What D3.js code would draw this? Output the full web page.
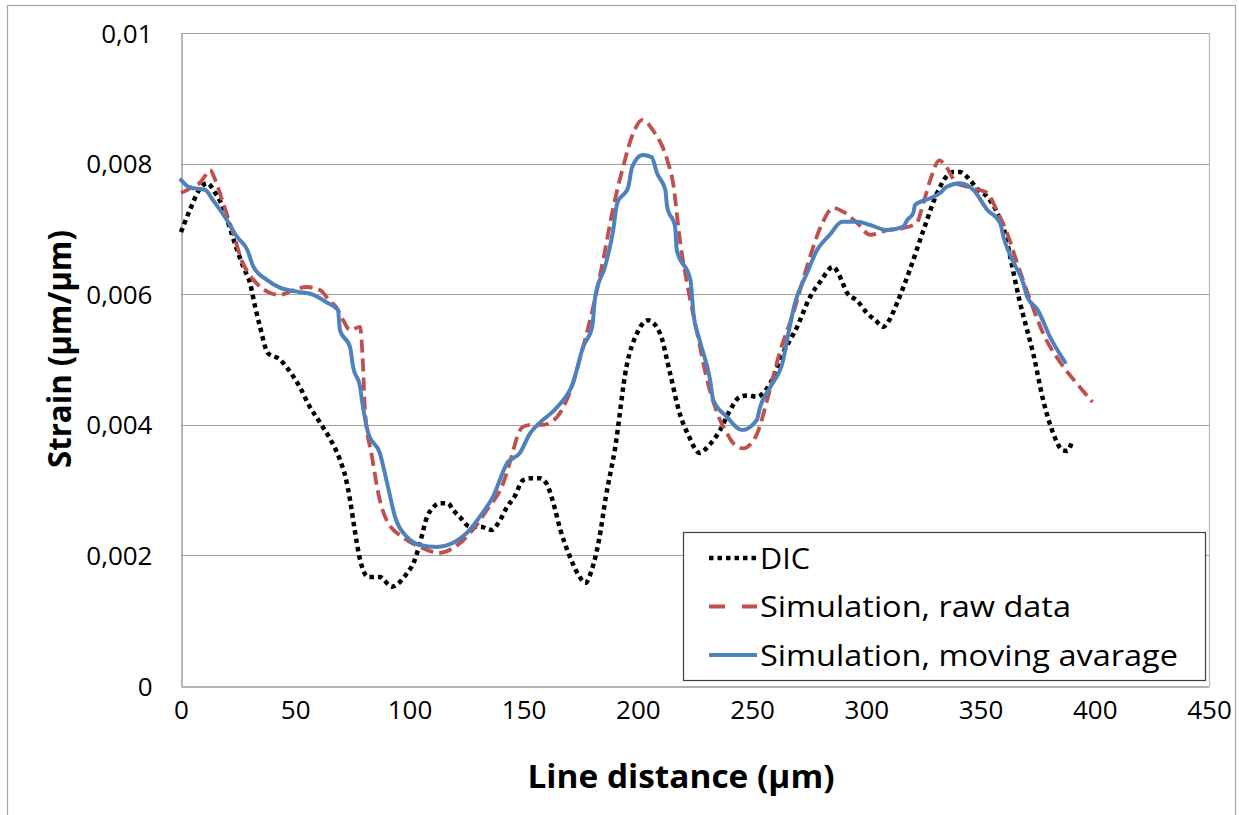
<!DOCTYPE html>
<html><head><meta charset="utf-8">
<script src="https://cdn.jsdelivr.net/npm/d3@7/dist/d3.min.js"></script>
<style>body{margin:0;background:#fff}svg{display:block}</style>
</head><body>
<svg id="c" width="1239" height="815"></svg>
<script>
// ---- data ----
const xTicks = [0,50,100,150,200,250,300,350,400,450];
const yTicks = [0,0.002,0.004,0.006,0.008,0.01];
const seriesNames = ["DIC","Simulation, raw data","Simulation, moving avarage"];

const dicX = [0,4,8,11.4,15,18.4,21.5,24.5,27.5,30.2,32.5,34.6,38,43.3,48,52,56,60.9,65,69.6,72,74,76,78.4,82,87,92.3,96,99,102,104.6,107.7,110,113.4,116.9,119,122,126.5,131,136,139,142.7,146,149.7,153,157,160,163,166,170,174,177,180,183,186,190,195,199.6,204.5,209.7,214,218.5,222,227,231,236,240,244.7,248,252,258,263.6,269.7,275.4,280,285.5,288,291.6,296,300.3,304,307.4,310,313.5,319,325,331,335,338,341,344,349,353,358.6,361,363,367,370,373,377.4,381.8,386,388,390];
const dicY = [0.00695,0.0073,0.0076,0.0077,0.00755,0.00733,0.0070,0.00668,0.0064,0.00617,0.0058,0.0055,0.0051,0.0050,0.0048,0.00458,0.0043,0.00403,0.0038,0.00346,0.0032,0.00285,0.0024,0.00193,0.00167,0.00167,0.00152,0.0016,0.00173,0.0019,0.00219,0.00259,0.00272,0.0028,0.0028,0.0027,0.00259,0.00244,0.00244,0.00239,0.0025,0.00274,0.0029,0.00315,0.00318,0.00318,0.0031,0.0028,0.0024,0.002,0.0017,0.00158,0.0018,0.00224,0.0029,0.00364,0.00489,0.0054,0.0056,0.0054,0.0048,0.00415,0.00385,0.00357,0.00368,0.00392,0.0042,0.00443,0.00445,0.00443,0.00464,0.0051,0.0055,0.00596,0.0062,0.00642,0.0063,0.00602,0.0059,0.00571,0.0056,0.0055,0.0056,0.00587,0.00637,0.00698,0.00755,0.0078,0.00787,0.00787,0.0078,0.0076,0.00749,0.00714,0.0069,0.00657,0.00591,0.0055,0.0051,0.00438,0.00387,0.00361,0.0036,0.00374];

const rawX = [0,3,5,8,11.4,12.7,15,18.4,22.8,27,30,33,39,43.3,49,55,61,65,68,71,74,78.4,79.7,80.5,83.6,87,90,97,104.6,113.4,119,126.5,134,141,145,147,149.7,154,158.5,164.6,170,176,180.4,184.8,189,193.5,198,202,206.6,212.8,215.4,218.5,221.5,226,230,236,239,241.7,246,252,256.6,262,268,274,280,285.5,290,296,301.7,305,309,316,322,325,328,332,335,339.5,345,349,353,357,361.6,366,371.7,377.4,385,392,399];
const rawY = [0.00755,0.0076,0.00765,0.0077,0.00785,0.0079,0.00775,0.0074,0.00694,0.00648,0.0063,0.00617,0.00602,0.00599,0.00606,0.00611,0.00606,0.0059,0.0058,0.0056,0.00545,0.0055,0.00489,0.00423,0.00351,0.00285,0.00254,0.00228,0.00213,0.00204,0.00211,0.00234,0.0027,0.0031,0.00355,0.0038,0.00397,0.004,0.004,0.00412,0.00448,0.00519,0.0058,0.00652,0.00729,0.00795,0.00847,0.00867,0.00851,0.00806,0.0077,0.0068,0.00617,0.0054,0.00473,0.00407,0.00387,0.00372,0.00364,0.00385,0.00438,0.0051,0.00571,0.00642,0.00703,0.00732,0.00726,0.00709,0.00691,0.00693,0.00698,0.00701,0.00709,0.0074,0.00775,0.00805,0.00795,0.0077,0.00764,0.0076,0.00755,0.00729,0.00694,0.00648,0.00591,0.0054,0.00495,0.00464,0.00435];

const avgX = [0,4,10.5,14,20,24.5,29,31.7,37.6,43.3,50.8,58,64,68.7,69.6,74,75.3,78.4,79.2,82,87,90.6,93.7,99,104.6,112,119,125,132,136.6,142.7,148.4,152.8,157,164.6,171.6,176,180,181.3,185.6,189,191,195.7,197.5,202,206,208.4,212,212.8,216.3,217,223,224.3,227,231.6,233,239,245.6,252,253.5,258,263.6,265.3,268.8,274,278.5,284,289.4,296,301.7,309,316,318,320.5,321.4,328,332.3,335,341,346.8,353,358.6,360,364,368.7,370.4,375,380.5,387];
const avgY = [0.00775,0.00763,0.0076,0.00744,0.00714,0.00688,0.00668,0.00642,0.00622,0.0061,0.00604,0.00599,0.00587,0.00576,0.00545,0.00519,0.00489,0.00458,0.00438,0.00387,0.00357,0.00305,0.00259,0.00228,0.00216,0.00213,0.00219,0.00234,0.00265,0.0029,0.00341,0.00357,0.00387,0.00403,0.00427,0.00464,0.00519,0.0055,0.00596,0.00642,0.00694,0.0074,0.00763,0.00795,0.00813,0.0081,0.00785,0.0076,0.00734,0.00703,0.00668,0.00622,0.00571,0.0053,0.00469,0.00438,0.00412,0.00392,0.00407,0.00427,0.00458,0.00499,0.0053,0.00587,0.00632,0.00668,0.00691,0.00711,0.00711,0.00706,0.00698,0.00703,0.00714,0.00724,0.00737,0.00747,0.00755,0.00764,0.0077,0.0076,0.00729,0.00709,0.00688,0.00652,0.00617,0.00596,0.00576,0.00534,0.00496];

// ---- chart ----
const svg = d3.select("#c");
const L = 181, R = 1209, T = 33, B = 686;
const x = d3.scaleLinear().domain([0,450]).range([L,R]);
const y = d3.scaleLinear().domain([0,0.01]).range([B,T]);
const font = "'Open Sans', 'Liberation Sans', sans-serif";

// outer chart border
svg.append("rect").attr("x",7.5).attr("y",5.5).attr("width",1228).attr("height",820)
  .attr("fill","#fff").attr("stroke","#a6a6a6").attr("stroke-width",1.2);

// gridlines
svg.append("g").selectAll("line").data(yTicks.filter(d=>d>0)).join("line")
  .attr("x1",L).attr("x2",R).attr("y1",d=>Math.round(y(d))+0.5).attr("y2",d=>Math.round(y(d))+0.5)
  .attr("stroke","#a0a0a0").attr("stroke-width",1.2);
// plot border right
svg.append("line").attr("x1",R+0.5).attr("x2",R+0.5).attr("y1",T).attr("y2",B)
  .attr("stroke","#b8b8b8").attr("stroke-width",1.2);

// axes
const yAxis = d3.axisLeft(y).tickValues(yTicks).tickSize(0).tickPadding(29)
  .tickFormat(d => d===0 ? "0" : String(+d.toFixed(3)).replace(".",","));
const gy = svg.append("g").attr("transform",`translate(${L+0.5},0)`).call(yAxis);
gy.select(".domain").attr("stroke","#9a9a9a").attr("stroke-width",1.4);
gy.selectAll("text").attr("font-family",font).attr("font-size",26).attr("fill","#000").attr("dy","0.35em");

const xAxis = d3.axisBottom(x).tickValues(xTicks).tickSize(0).tickPadding(14).tickFormat(d3.format("d"));
const gx = svg.append("g").attr("transform",`translate(0,${B+0.5})`).call(xAxis);
gx.select(".domain").attr("stroke","#9a9a9a").attr("stroke-width",1.4);
gx.selectAll("text").attr("font-family",font).attr("font-size",26).attr("fill","#000");

// axis titles
svg.append("text").attr("x",681).attr("y",788).attr("text-anchor","middle")
  .attr("font-family",font).attr("font-weight","bold").attr("font-size",32)
  .attr("textLength",307).attr("lengthAdjust","spacingAndGlyphs")
  .text("Line distance (µm)");
svg.append("text").attr("transform","translate(71,349) rotate(-90)").attr("text-anchor","middle")
  .attr("font-family",font).attr("font-weight","bold").attr("font-size",32)
  .attr("textLength",238).attr("lengthAdjust","spacingAndGlyphs")
  .text("Strain (µm/µm)");

// series
const line = d3.line().x(d=>x(d[0])).y(d=>y(d[1])).curve(d3.curveMonotoneX);
const styles = [
  {color:"#000000", width:4.5, dash:"4.5,4", cap:"butt"},
  {color:"#C0504D", width:3.8, dash:"13,6", cap:"butt"},
  {color:"#4F81BD", width:4, dash:null, cap:"round"}
];
const seriesData = [d3.zip(dicX,dicY), d3.zip(rawX,rawY), d3.zip(avgX,avgY)];
const gS = svg.append("g");
seriesData.forEach((data,i) => {
  gS.append("path").datum(data).attr("d",line).attr("fill","none")
    .attr("stroke",styles[i].color).attr("stroke-width",styles[i].width)
    .attr("stroke-dasharray",styles[i].dash).attr("stroke-linecap",styles[i].cap)
    .attr("stroke-linejoin","round");
});

// legend
const lg = svg.append("g");
lg.append("rect").attr("x",683.5).attr("y",532.5).attr("width",522).attr("height",148)
  .attr("fill","#fff").attr("stroke","#404040").attr("stroke-width",1.2);
const legDash = ["4.5,4","16,17",null];
const legLen = [50,311,418];
seriesNames.forEach((name,i) => {
  const cy = 558 + i*48.5;
  lg.append("line").attr("x1",709).attr("x2",757).attr("y1",cy).attr("y2",cy)
    .attr("stroke",styles[i].color).attr("stroke-width",styles[i].width)
    .attr("stroke-dasharray",legDash[i]);
  lg.append("text").attr("x",760).attr("y",cy+10.5)
    .attr("font-family",font).attr("font-size",29)
    .attr("textLength",legLen[i]).attr("lengthAdjust","spacingAndGlyphs")
    .text(name);
});
</script>
</body></html>
